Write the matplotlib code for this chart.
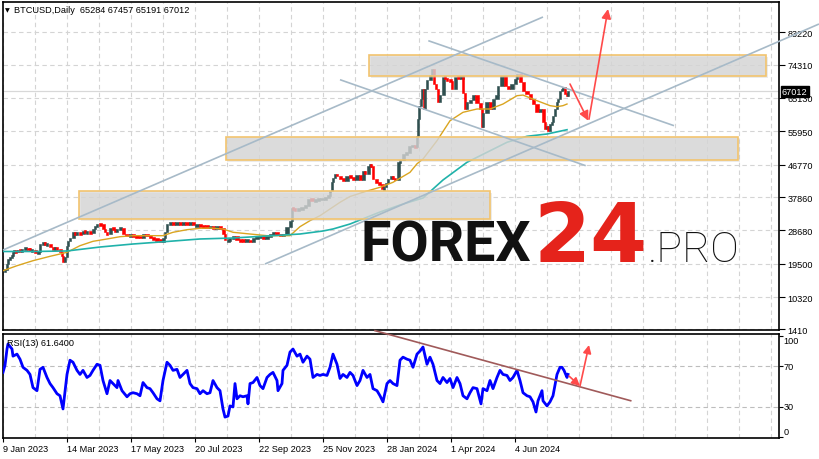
import matplotlib
matplotlib.use("Agg")
import matplotlib.pyplot as plt
from matplotlib.patches import Rectangle

# ---------------- data ----------------
date_labels = ["9 Jan 2023", "14 Mar 2023", "17 May 2023", "20 Jul 2023", "22 Sep 2023",
               "25 Nov 2023", "28 Jan 2024", "1 Apr 2024", "4 Jun 2024"]
date_label_days = [0, 64, 128, 192, 256, 320, 384, 448, 512]

price_ticks = [83220, 74310, 65130, 55950, 46770, 37860, 28680, 19500, 10320, 1410]

price_days = [0, 2, 4, 5, 7, 9, 10, 11, 13, 15,
              17, 19, 22, 25, 27, 29, 32, 35, 37, 40,
              42, 44, 47, 50, 52, 54, 57, 59, 60, 62,
              64, 65, 67, 70, 72, 74, 77, 80, 82, 84,
              87, 90, 92, 94, 97, 100, 102, 104, 107, 110,
              112, 114, 117, 120, 124, 127, 130, 134, 137, 140,
              144, 147, 150, 154, 157, 160, 162, 164, 167, 170,
              174, 177, 180, 184, 187, 190, 194, 197, 200, 204,
              207, 210, 214, 217, 220, 222, 225, 227, 230, 234,
              237, 240, 244, 247, 250, 254, 257, 260, 264, 267,
              270, 274, 277, 280, 284, 287, 289, 290, 292, 295,
              299, 302, 305, 309, 312, 315, 319, 322, 325, 327,
              329, 330, 332, 334, 337, 340, 344, 347, 350, 354,
              357, 360, 362, 365, 367, 368, 370, 373, 376, 379,
              381, 383, 385, 388, 390, 392, 395, 397, 400, 403,
              406, 409, 412, 414, 415, 416, 418, 419, 421, 422,
              424, 427, 429, 431, 433, 435, 437, 440, 442, 444,
              447, 449, 452, 455, 459, 460, 462, 464, 467, 470,
              474, 477, 479, 480, 484, 487, 490, 494, 495, 499,
              502, 505, 509, 512, 514, 517, 520, 524, 527, 530,
              534, 537, 540, 542, 544, 545, 547, 549, 550, 552,
              554, 555, 557, 559, 560, 562, 564, 565]
price_close = [17200, 17900, 19400, 20800, 21200, 21700, 22600, 23000, 22700, 23300,
               23000, 23500, 23700, 23400, 23200, 23300, 22600, 22800, 24900, 25300,
               24800, 24900, 24000, 23500, 23800, 23500, 22600, 21700, 19900, 21300,
               24400, 25800, 26700, 28100, 27700, 28100, 27600, 28500, 28000, 28100,
               28000, 29000, 29800, 30400, 30300, 29000, 28200, 27600, 29400, 29000,
               28500, 29000, 29400, 27600, 27200, 27200, 27100, 27000, 26700, 27600,
               27200, 26700, 26300, 26200, 25400, 26700, 28200, 30400, 30900, 30300,
               30800, 30300, 30800, 30300, 30900, 30100, 30100, 29900, 29800, 29500,
               29700, 29400, 29700, 29400, 27600, 25900, 26000, 26300, 27100, 26000,
               25900, 25800, 26000, 25500, 26700, 26700, 27000, 26400, 27100, 27600,
               27900, 27600, 27200, 27600, 29500, 31300, 34900, 34500, 34100, 34500,
               35000, 35400, 37300, 36800, 36900, 37300, 37300, 37700, 38200, 39600,
               41900, 43200, 44100, 43700, 42800, 42300, 43700, 43200, 42500, 43800,
               42600, 45000, 44200, 46500, 46600, 46300, 42800, 41800, 41500, 40000,
               40500, 41600, 42800, 43500, 43000, 42600, 47500, 48000, 49800, 50000,
               51800, 52000, 51500, 54700, 59300, 63000, 64800, 67500, 62000, 67500,
               70000, 71500, 73000, 69000, 67500, 63900, 65800, 70800, 70500, 70000,
               69700, 67500, 71000, 70700, 70800, 66600, 62000, 64000, 64500, 65800,
               63700, 62000, 57000, 61000, 63900, 62000, 64800, 65800, 68500, 71200,
               68500, 67500, 69000, 70300, 71700, 69400, 67100, 66200, 64800, 63500,
               61300, 62000, 58400, 56600, 57500, 56100, 58000, 58400, 60200, 62000,
               63900, 64800, 67100, 67500, 68000, 66200, 65700, 67012]

ma_fast_days = [0, 14, 30, 47, 57, 64, 77, 90, 104, 117, 130, 160, 170, 184, 197, 207,
                220, 230, 247, 264, 287, 297, 307, 317, 327, 337, 347, 364, 377, 390,
                407, 414, 420, 434, 447, 460, 474, 487, 500, 514, 520, 534, 547, 554, 560, 564]
ma_fast_vals = [17580, 18960, 20340, 21540, 22180, 22650, 24470, 25670, 26310, 26940, 27220,
                27220, 28150, 28870, 29250, 29340, 29060, 28150, 27680, 27220, 27220, 29700,
                31350, 32720, 34560, 36400, 38000, 39500, 40530, 41900, 44650, 47000, 48310,
                53350, 58840, 61160, 62070, 62070, 63440, 65730, 65900, 64360, 62990, 62700,
                62990, 63440]

ma_slow_days = [0, 30, 64, 97, 130, 164, 197, 230, 264, 297, 320, 330, 347, 377, 397, 420,
                440, 464, 484, 504, 524, 544, 564]
ma_slow_vals = [22870, 22870, 23010, 24100, 24930, 25620, 26310, 26580, 27130, 27680, 28510,
                29060, 30430, 33730, 35660, 37580, 42540, 47410, 50160, 52910, 54560, 55190,
                56370]

rsi_days = [0, 2, 4, 5, 9, 10, 14, 17, 20, 24, 27, 30, 34, 37, 40, 44, 47, 50, 54, 57,
            60, 64, 67, 70, 74, 77, 80, 84, 87, 90, 94, 97, 100, 104, 107, 110, 114, 115, 119, 124,
            127, 130, 134, 137, 140, 144, 147, 150, 154, 157, 160, 164, 167, 170, 174, 177, 180, 184, 187, 190,
            194, 197, 200, 204, 207, 210, 214, 217, 220, 222, 225, 227, 230, 232, 234, 237, 240, 244, 245, 247,
            250, 254, 257, 260, 264, 267, 270, 274, 275, 279, 280, 284, 286,
            287, 290, 294, 297, 300, 304, 307, 310, 314, 317, 320, 324, 327, 330, 334, 337, 340, 344, 347, 350,
            354, 357, 360, 364, 367, 370, 374, 377, 380, 384, 387, 390, 394, 397, 400, 404, 407, 410, 414, 417,
            420, 424, 427, 430, 434, 437, 440, 444, 447, 450, 454, 457, 460, 464, 467, 470, 474, 478, 480, 484,
            487, 490, 494, 497, 500, 504, 507, 510, 514, 517, 520, 524, 527, 530, 533, 535, 539, 540, 544, 547,
            550, 554, 557, 559, 561, 564, 565]
rsi_vals = [64, 71, 87, 92, 87, 80, 82, 77, 69, 66, 62, 49, 46, 67, 69, 59, 53, 49, 43, 41,
            28, 62, 76, 74, 66, 62, 66, 59, 61, 66, 72, 71, 56, 43, 56, 53, 49, 56, 46, 40,
            43, 44, 43, 41, 54, 49, 48, 44, 38, 36, 56, 74, 71, 66, 67, 59, 62, 66, 53, 49,
            48, 43, 46, 43, 44, 56, 49, 46, 28, 20, 21, 31, 30, 53, 38, 41, 40, 41, 33, 53,
            54, 59, 51, 48, 59, 62, 64, 56, 46, 53, 66, 71, 80,
            84, 87, 80, 82, 74, 80, 77, 59, 62, 61, 62, 61, 69, 82, 72, 58, 62, 59, 64, 61,
            51, 56, 66, 59, 62, 48, 46, 41, 35, 53, 56, 53, 51, 76, 79, 77, 76, 69, 82, 85,
            89, 72, 79, 72, 56, 53, 59, 54, 58, 49, 59, 53, 41, 38, 44, 49, 48, 33, 48, 46,
            56, 48, 59, 66, 62, 61, 56, 59, 66, 56, 44, 41, 40, 35, 25, 36, 46, 36, 31, 35,
            41, 62, 69, 69, 66, 59, 62]

# zones (day_start, day_end, price_low, price_high)
zone_x0 = [366, 222.7, 76.3]
zone_x1 = [763, 735.3, 487]
zone_lo = [71150, 48040, 31810]
zone_hi = [76920, 54500, 39430]

# channel lines (day0, price0, day1, price1)
chan_d0 = [0, 262, 425.3, 337]
chan_p0 = [23280, 19430, 80860, 70130]
chan_d1 = [540, 816, 671, 582.7]
chan_p1 = [87380, 85450, 57480, 46470]

last_price = 67012
header = "BTCUSD,Daily  65284 67457 65191 67012"
rsi_label = "RSI(13) 61.6400"

# ---------------- figure ----------------
W, H = 819, 460
fig = plt.figure(figsize=(W / 100, H / 100), dpi=100)
fig.patch.set_facecolor("white")


def fx(x):
    return x / W


def fy(y):
    return 1 - y / H


XL, XR = 2.5, 779
main = fig.add_axes([fx(XL), fy(331), fx(XR) - fx(XL), (331 - 3) / H])
rsi = fig.add_axes([fx(XL), fy(438.5), fx(XR) - fx(XL), (438.5 - 335) / H])

xlim = (-0.5, 776)
main.set_xlim(*xlim)
rsi.set_xlim(*xlim)
main.set_ylim(1272, 91505)
rsi.set_ylim(-0.1, 101.8)

grid_kw = dict(color="#D4D4D4", lw=0.8, ls=(0, (4, 3)), zorder=0)
for ax in (main, rsi):
    for d in range(0, 776, 32):
        ax.axvline(d, **grid_kw)
    for s in ax.spines.values():
        s.set_color("black")
        s.set_linewidth(1.2)
for v in price_ticks:
    main.axhline(v, **grid_kw)
for v in (70, 30):
    rsi.axhline(v, color="#BDBDBD", lw=0.8, ls=(0, (4, 3)), zorder=0)

# current price line
main.axhline(last_price, color="#D8D8D8", lw=0.9, zorder=0.5)

# candles (bodies from previous close to close)
UP, DN = "#2F4F4F", "#FF0000"
for i in range(1, len(price_days)):
    o, c = price_close[i - 1], price_close[i]
    gap = price_days[i] - price_days[i - 1]
    w = max(1.6, gap * 1.0)
    col = UP if c >= o else DN
    lo, hi = min(o, c), max(o, c)
    if hi - lo < 800:
        mid = (hi + lo) / 2
        lo, hi = mid - 400, mid + 400
    main.add_patch(Rectangle((price_days[i] - w / 2, lo), w, hi - lo,
                             facecolor=col, edgecolor=col, lw=0.4, zorder=2))

# moving averages
main.plot(ma_fast_days, ma_fast_vals, color="#DAA520", lw=1.0, zorder=3)
main.plot(ma_slow_days, ma_slow_vals, color="#20B2AA", lw=1.2, zorder=3)

# zones (semi transparent, over candles)
for x0, x1, lo, hi in zip(zone_x0, zone_x1, zone_lo, zone_hi):
    main.add_patch(Rectangle((x0 + 1.5, lo - 500), x1 - x0, hi - lo, facecolor="#C8C8C8",
                             alpha=0.35, edgecolor="none", zorder=3.5))
    main.add_patch(Rectangle((x0, lo), x1 - x0, hi - lo, facecolor="#D6D6D6", alpha=0.72,
                             edgecolor="none", zorder=4))
    main.add_patch(Rectangle((x0, lo), x1 - x0, hi - lo, facecolor="none",
                             edgecolor="#F2C46E", lw=1.2, zorder=4.1))

# channel lines
for d0, p0, d1, p1 in zip(chan_d0, chan_p0, chan_d1, chan_p1):
    main.plot([d0, d1], [p0, p1], color="#A7BAC8", lw=1.2, zorder=5, clip_on=False,
              solid_capstyle="butt")

# forecast arrows (main)
arr_kw = dict(arrowstyle="-|>", color="#FF4A4A", lw=1.2, mutation_scale=14,
              shrinkA=0, shrinkB=0)
main.annotate("", xy=(585.3, 58850), xytext=(567, 68940), arrowprops=arr_kw, zorder=6)
main.annotate("", xy=(605, 89580), xytext=(586, 59280), arrowprops=arr_kw, zorder=6)

# RSI
rsi.plot(rsi_days, rsi_vals, color="#0000FF", lw=2.0, zorder=3)
rsi.plot([372, 627.7], [105.1, 36.1], color="#A05A5A", lw=1.2, zorder=4, clip_on=False)
arr_kw2 = dict(arrowstyle="-|>", color="#FF4A4A", lw=1.2, mutation_scale=12,
               shrinkA=0, shrinkB=0)
rsi.annotate("", xy=(577, 50.6), xytext=(566, 60.4), arrowprops=arr_kw2, zorder=6)
rsi.annotate("", xy=(586, 91), xytext=(577, 50.6), arrowprops=arr_kw2, zorder=6)

# axes ticks
FONT = ["Liberation Sans", "DejaVu Sans"]
FS = 6.6
main.set_xticks([])
main.yaxis.tick_right()
main.set_yticks(price_ticks)
main.set_yticklabels([str(v) for v in price_ticks], fontsize=FS, family=FONT)
main.tick_params(axis="y", direction="out", length=4, width=0.8, pad=2)

rsi.yaxis.tick_right()
rsi.set_yticks([100, 70, 30, 0])
rsi.set_yticklabels([])
rsi.tick_params(axis="y", direction="out", length=3, width=0.8)
rsi.set_xticks(date_label_days)
rsi.set_xticklabels(date_labels, fontsize=FS, family=FONT, ha="left")
rsi.tick_params(axis="x", direction="out", length=3, width=0.8, pad=2)

for lab, yy in zip(["100", "70", "30", "0"], [342, 367.5, 408, 432.5]):
    fig.text(fx(783.5), fy(yy), lab, fontsize=FS, family=FONT, va="center", ha="left")

# last price label
fig.text(fx(782), fy(92.5), str(last_price), fontsize=FS, family=FONT, color="white",
         va="center", ha="left",
         bbox=dict(boxstyle="square,pad=0.15", facecolor="black", edgecolor="black"))

# header & indicator label
fig.text(fx(5), fy(10.5), "\u25BC", fontsize=4.5, family=["DejaVu Sans"], va="center")
fig.text(fx(14), fy(10.5), header, fontsize=FS, family=FONT, va="center")
fig.text(fx(7), fy(344), rsi_label, fontsize=FS, family=FONT, va="center")

# watermark
fig.text(fx(361), fy(262), "FOREX", fontsize=40, family=["Roboto", "DejaVu Sans"],
         weight="bold", color="#111111", va="baseline", ha="left", zorder=10)
fig.text(fx(533), fy(262), "24", fontsize=59, family=["DejaVu Sans"], weight="bold",
         color="#E5231B", va="baseline", ha="left", zorder=10)
fig.text(fx(648), fy(262), ".PRO", fontsize=31, family=["Roboto", "DejaVu Sans"],
         weight="light", color="#111111", va="baseline", ha="left", zorder=10)

fig.savefig("out.png", dpi=100)
